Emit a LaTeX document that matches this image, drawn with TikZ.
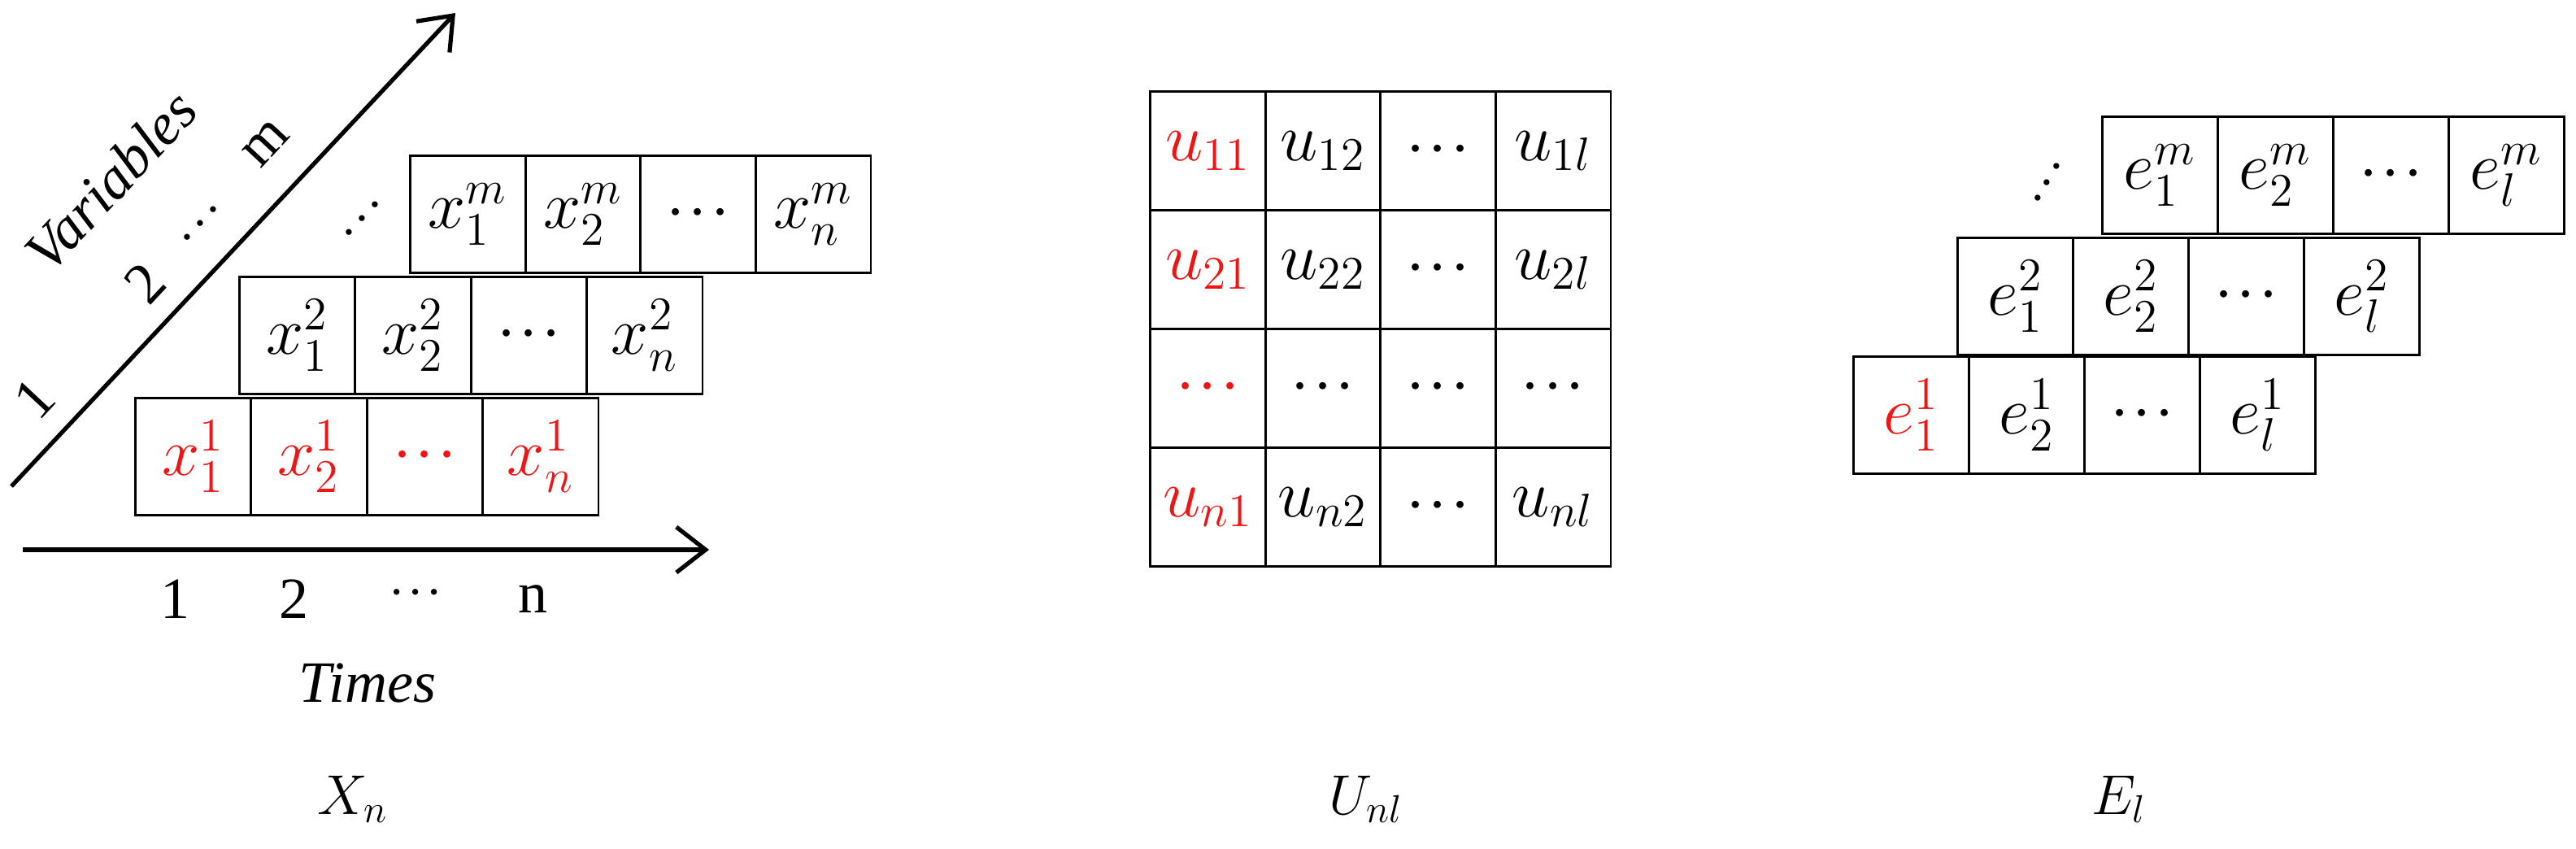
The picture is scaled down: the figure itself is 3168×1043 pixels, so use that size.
\documentclass[tikz,border=0pt]{standalone}
\usepackage{fontspec}
\setmainfont{Liberation Serif}
\usetikzlibrary{arrows.meta}
\definecolor{myred}{RGB}{240,20,20}
\newcommand{\dts}{\cdot\!\cdot\!\cdot}
\begin{document}
\begin{tikzpicture}[x=0.25pt,y=-0.25pt,
  cellbox/.style={draw,line width=0.7pt,minimum width=35.5pt,minimum height=36pt,inner sep=0pt,anchor=north west,font=\fontsize{20}{22}\selectfont},
  ucell/.style={cellbox,minimum height=36.5pt},
  lbl/.style={font=\fontsize{18}{20}\selectfont},
  axis/.style={line width=1.3pt,-{Straight Barb[length=9pt,width=14pt,line width=1.3pt]}},
  hl/.style={text=myred}]
\useasboundingbox (0,0) rectangle (3168,1043);
% ---------- X_n ----------
\node[cellbox,hl] (a0) at (165,488) {$x_1^1$};
\node[cellbox,hl] (a1) at (307.5,488) {$x_2^1$};
\node[cellbox,hl] (a2) at (450,488) {$\dts$};
\node[cellbox,hl] (a3) at (592.5,488) {$x_n^1$};
\foreach \t [count=\i from 0] in {{$x_1^2$},{$x_2^2$},{$\dts$},{$x_n^2$}}
  \node[cellbox] (b\i) at (293+\i*142.5,339) {\t};
\foreach \t [count=\i from 0] in {{$x_1^m$},{$x_2^m$},{$\dts$},{$x_n^m$}}
  \node[cellbox] (c\i) at (503+\i*141.5,190) {\t};
\node[lbl,rotate=47] (cd) at (447,270) {$\dts$};
\coordinate (h0) at (28,676);
\coordinate (h1) at (872,676);
\draw[axis] (h0) -- (h1);
\coordinate (d0) at (14,598);
\coordinate (d1) at (560,16);
\draw[axis] (d0) -- (d1);
\node[lbl] (t1) at (215,737) {1};
\node[lbl] (t2) at (361,737) {2};
\node[lbl] (t3) at (511,730) {$\dts$};
\node[lbl] (t4) at (655,737) {n};
\node[lbl] (times) at (452,840) {\textit{Times}};
\node[lbl,rotate=47] (v1) at (42,490) {1};
\node[lbl,rotate=47] (v2) at (178,348) {2};
\node[lbl,rotate=47] (v3) at (248,276) {$\dts$};
\node[lbl,rotate=47] (v4) at (327,176) {m};
\node[lbl,rotate=47] (vars) at (136,222) {\textit{Variables}};
\node[lbl] (Xn) at (434,983) {$X_n$};
% ---------- U_nl ----------
\foreach \r/\a/\b/\c [count=\j from 0] in {
  {$u_{11}$}/{$u_{12}$}/{$\dts$}/{$u_{1l}$},
  {$u_{21}$}/{$u_{22}$}/{$\dts$}/{$u_{2l}$},
  {$\dts$}/{$\dts$}/{$\dts$}/{$\dts$},
  {$u_{n1}$}/{$u_{n2}$}/{$\dts$}/{$u_{nl}$}}{
  \node[ucell,hl] (u\j0) at (1413,111+\j*146) {\r};
  \node[ucell] (u\j1) at (1554.5,111+\j*146) {\a};
  \node[ucell] (u\j2) at (1696,111+\j*146) {\b};
  \node[ucell] (u\j3) at (1837.5,111+\j*146) {\c};
}
\node[lbl] (Unl) at (1680,983) {$U_{nl}$};
% ---------- E_l ----------
\node[cellbox,hl] (e0) at (2278,437) {$e_1^1$};
\node[cellbox] (e1) at (2420,437) {$e_2^1$};
\node[cellbox] (e2) at (2562,437) {$\dts$};
\node[cellbox] (e3) at (2704,437) {$e_l^1$};
\foreach \t [count=\i from 0] in {{$e_1^2$},{$e_2^2$},{$\dts$},{$e_l^2$}}
  \node[cellbox] (f\i) at (2406+\i*142,291) {\t};
\foreach \t [count=\i from 0] in {{$e_1^m$},{$e_2^m$},{$\dts$},{$e_l^m$}}
  \node[cellbox] (g\i) at (2584+\i*142,142) {\t};
\node[lbl,rotate=60] (gd) at (2519,225) {$\dts$};
\node[lbl] (El) at (2606,983) {$E_l$};
\end{tikzpicture}
\end{document}
